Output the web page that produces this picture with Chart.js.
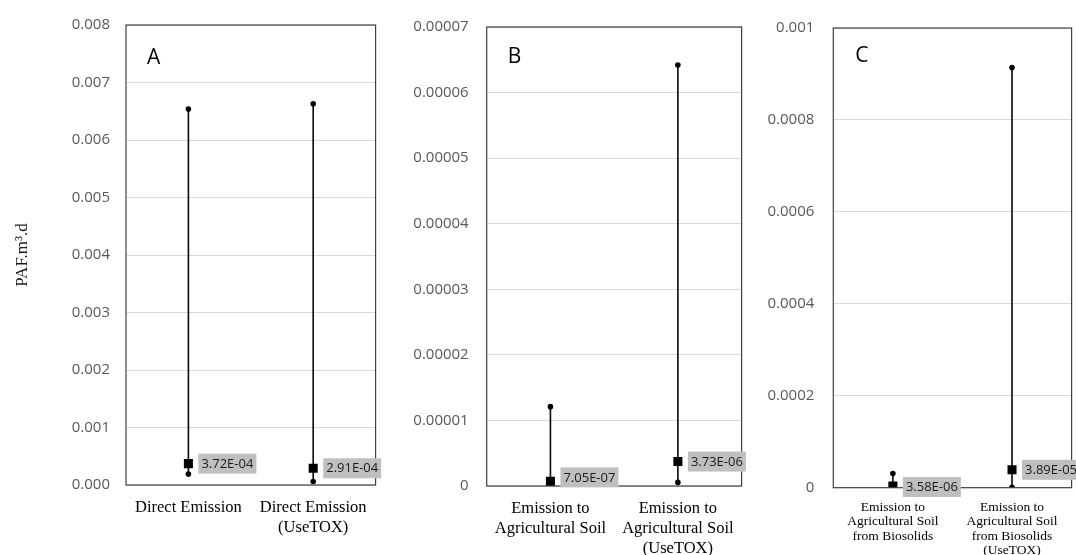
<!DOCTYPE html>
<html lang="en">
<head>
  <meta charset="UTF-8" />
  <title>PAF ranges</title>
  <script src="https://cdn.jsdelivr.net/npm/chart.js"></script>
  <style>
    body {
      margin: 0;
      background: #fff;
      width: 1076px;
      height: 555px;
      position: relative;
      overflow: hidden;
    }
    .panel {
      position: absolute;
      top: 0;
      height: 555px;
    }
  </style>
</head>
<body>
  <div class="panel" style="left:0;width:382px"><canvas id="chartA"></canvas></div>
  <div class="panel" style="left:380px;width:368px"><canvas id="chartB"></canvas></div>
  <div class="panel" style="left:746px;width:332px"><canvas id="chartC"></canvas></div>

  <script>
    // panel A
    const labelsA = [['Direct Emission'], ['Direct Emission', '(UseTOX)']];
    const maxA = [0.00654, 0.00663];
    const minA = [0.00019, 0.00006];
    const meanA = [3.72e-4, 2.91e-4];
    const ticksA = { max: 0.008, step: 0.001 };

    // panel B
    const labelsB = [['Emission to', 'Agricultural Soil'], ['Emission to', 'Agricultural Soil', '(UseTOX)']];
    const maxB = [1.21e-5, 6.42e-5];
    const minB = [2.0e-7, 5.5e-7];
    const meanB = [7.05e-7, 3.73e-6];
    const ticksB = { max: 0.00007, step: 0.00001 };

    // panel C
    const labelsC = [['Emission to', 'Agricultural Soil', 'from Biosolids'], ['Emission to', 'Agricultural Soil', 'from Biosolids', '(UseTOX)']];
    const maxC = [3.1e-5, 9.14e-4];
    const minC = [1.0e-6, 1.0e-6];
    const meanC = [3.58e-6, 3.89e-5];
    const ticksC = { max: 0.001, step: 0.0002 };

    function fmtExp(v) {
      const parts = v.toExponential(2).split('e');
      const neg = parts[1][0] === '-';
      const e = parts[1].replace(/[-+]/, '').padStart(2, '0');
      return parts[0] + 'E' + (neg ? '-' : '+') + e;
    }

    // frame, panel letter and value boxes
    const decor = {
      id: 'decor',
      afterDatasetsDraw(chart, args, opts) {
        const ctx = chart.ctx;
        const a = chart.chartArea;
        ctx.save();
        ctx.strokeStyle = '#404040';
        ctx.lineWidth = 1.2;
        ctx.strokeRect(a.left, a.top, a.right - a.left, a.bottom - a.top);

        ctx.fillStyle = '#000';
        ctx.font = '21px "Open Sans"';
        ctx.textBaseline = 'alphabetic';
        ctx.textAlign = 'left';
        ctx.fillText(opts.letter, a.left + opts.letterDx, a.top + opts.letterDy);

        // mean dataset is the first one
        const meta = chart.getDatasetMeta(0);
        const vals = chart.data.datasets[0].data;
        ctx.font = '13px "Open Sans"';
        ctx.textAlign = 'center';
        ctx.textBaseline = 'middle';
        meta.data.forEach((pt, i) => {
          const bx = pt.x + 10;
          const by = pt.y - 10 + (opts.shift[i] || 0);
          ctx.fillStyle = '#bfbfbf';
          ctx.fillRect(bx, by, 58, 20);
          ctx.fillStyle = '#1a1a1a';
          ctx.fillText(fmtExp(vals[i]), bx + 29, by + 10.5);
        });
        ctx.restore();
      }
    };

    function makeChart(id, labels, maxV, minV, meanV, tk, layout) {
      return new Chart(document.getElementById(id), {
        type: 'bar',
        data: {
          labels: labels,
          datasets: [
            {
              type: 'line', data: meanV, showLine: false, order: 0,
              pointStyle: 'rect', pointRadius: 6.4, pointHoverRadius: 6.4,
              backgroundColor: '#000', borderColor: '#000', borderWidth: 0
            },
            {
              type: 'line', data: maxV, showLine: false, order: 1,
              pointStyle: 'circle', pointRadius: 2.8, pointHoverRadius: 2.8,
              backgroundColor: '#000', borderColor: '#000', borderWidth: 0
            },
            {
              type: 'line', data: minV, showLine: false, order: 1,
              pointStyle: 'circle', pointRadius: 2.8, pointHoverRadius: 2.8,
              backgroundColor: '#000', borderColor: '#000', borderWidth: 0
            },
            {
              type: 'bar', data: maxV.map((m, i) => [minV[i], m]), order: 2,
              backgroundColor: '#111', barThickness: 1
            }
          ]
        },
        options: {
          responsive: true,
          maintainAspectRatio: false,
          animation: false,
          events: [],
          layout: { padding: { top: layout.top, right: layout.right, left: 0, bottom: 0 } },
          plugins: {
            legend: { display: false },
            tooltip: { enabled: false },
            decor: { letter: layout.letter, letterDx: layout.letterDx, letterDy: layout.letterDy, shift: layout.shift }
          },
          scales: {
            x: {
              type: 'category',
              offset: true,
              grid: { display: false },
              border: { display: false },
              ticks: {
                maxRotation: 0, minRotation: 0, autoSkip: false,
                padding: layout.catPad,
                color: '#000',
                font: { family: '"Liberation Serif", "Times New Roman", serif', size: layout.catFont, lineHeight: layout.catLH }
              },
              afterFit(scale) { scale.height = 555 - layout.bottom; }
            },
            y: {
              min: 0, max: tk.max,
              grid: { color: '#d9d9d9', lineWidth: 1, drawTicks: false },
              border: { display: false },
              ticks: {
                stepSize: tk.step,
                padding: layout.tickPad,
                color: '#595959',
                font: { family: '"Open Sans", sans-serif', size: 15 },
                callback: layout.fmt
              },
              title: {
                display: !!layout.yTitle,
                text: layout.yTitle || '',
                color: '#1a1a1a',
                padding: { top: 12, bottom: 0 },
                font: { family: '"Liberation Serif", "Times New Roman", serif', size: 17 }
              },
              afterFit(scale) { scale.width = layout.yWidth; }
            }
          }
        },
        plugins: [decor]
      });
    }

    const fmtPlain = v => (v === 0 ? '0' : String(Number(v.toFixed(8))));

    makeChart('chartA', labelsA, maxA, minA, meanA, ticksA, {
      top: 22, right: 0, bottom: 485, yWidth: 126, tickPad: 16,
      catFont: 16.5, catLH: 1.2, catPad: 5,
      letter: 'A', letterDx: 21, letterDy: 39, shift: [0, 0],
      yTitle: 'PAF.m\u00b3.d',
      fmt: v => v.toFixed(3)
    });
    makeChart('chartB', labelsB, maxB, minB, meanB, ticksB, {
      top: 26, right: 2, bottom: 486, yWidth: 106.7, tickPad: 18,
      catFont: 16.5, catLH: 1.2, catPad: 5,
      letter: 'B', letterDx: 21, letterDy: 36, shift: [-4, 0],
      fmt: fmtPlain
    });
    makeChart('chartC', labelsC, maxC, minC, meanC, ticksC, {
      top: 23.3, right: 2, bottom: 487.7, yWidth: 87.3, tickPad: 19,
      catFont: 13.5, catLH: 1.08, catPad: 4,
      letter: 'C', letterDx: 22, letterDy: 34, shift: [1, 0],
      fmt: fmtPlain
    });
  </script>
</body>
</html>
